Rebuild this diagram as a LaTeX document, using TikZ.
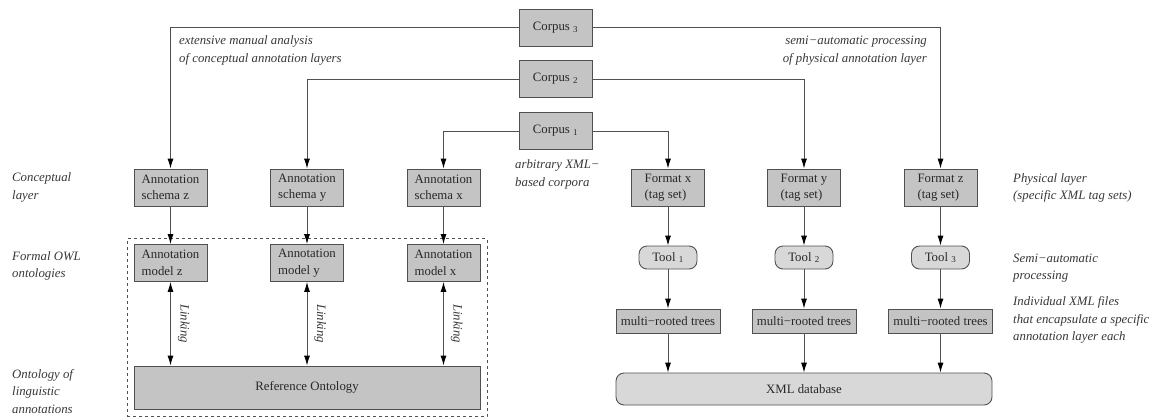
\documentclass[tikz,border=0pt]{standalone}
\usepackage{fontspec}
\setmainfont{Liberation Serif}
\usetikzlibrary{arrows.meta}
\definecolor{boxfill}{RGB}{196,196,196}
\definecolor{toolfill}{RGB}{216,216,216}
\definecolor{edge}{RGB}{80,80,80}
\definecolor{ink}{RGB}{40,40,40}
\definecolor{note}{RGB}{55,55,55}
\begin{document}
\begin{tikzpicture}[x=1pt,y=-1pt,
  font=\fontsize{12.8}{16.5}\selectfont,
  tip/.tip={Latex[length=10pt,width=6pt,fill=black,color=black]},
  box/.style={draw=edge, fill=boxfill, line width=0.9pt, inner sep=0pt,
    minimum width=73pt, minimum height=37pt, align=left, text=ink},
  toolbox/.style={draw=edge, fill=toolfill, line width=0.9pt, inner sep=0pt,
    rounded corners=8pt, minimum width=58pt, minimum height=23pt, text=ink},
  treebox/.style={draw=edge, fill=boxfill, line width=0.9pt, inner sep=0pt,
    minimum width=104pt, minimum height=24pt, text=ink},
  remark/.style={font=\fontsize{12.8}{17.5}\selectfont\itshape, text=note, inner sep=0pt, align=left},
  flow/.style={draw=edge, line width=0.9pt, -tip},
  link/.style={draw=edge, line width=0.9pt, tip-tip},
]
\useasboundingbox (0,0) rectangle (1155,418);

% corpora
\node[box] (c3) at (555.5,27.5) {Corpus \textsubscript{3}};
\node[box] (c2) at (555.5,79) {Corpus \textsubscript{2}};
\node[box] (c1) at (555.5,131) {Corpus \textsubscript{1}};

% conceptual layer
\node[box] (sz) at (170.5,187.5) {Annotation\\schema z};
\node[box] (sy) at (307,187.5) {Annotation\\schema y};
\node[box] (sx) at (443.5,187.5) {Annotation\\schema x};

% physical layer
\node[box] (fx) at (668,187.5) {Format x\\(tag set)};
\node[box] (fy) at (804,187.5) {Format y\\(tag set)};
\node[box] (fz) at (940.5,187.5) {Format z\\(tag set)};

% formal ontologies
\node[box] (mz) at (170.5,263) {Annotation\\model z};
\node[box] (my) at (307,263) {Annotation\\model y};
\node[box] (mx) at (443.5,263) {Annotation\\model x};
\node[box, minimum width=346pt, minimum height=43pt, align=center] (ref) at (307,387.5) {Reference Ontology};

% dashed frame around the ontology part
\node[draw=edge, dashed, line width=0.8pt, inner sep=0pt, minimum width=360pt, minimum height=178pt] (frame) at (307,327.5) {};

% tools, trees and database
\node[toolbox] (t1) at (668,257.5) {Tool \textsubscript{1}};
\node[toolbox] (t2) at (804,257.5) {Tool \textsubscript{2}};
\node[toolbox] (t3) at (940.5,257.5) {Tool \textsubscript{3}};
\node[treebox] (r1) at (668,321) {multi−rooted trees};
\node[treebox] (r2) at (804,321) {multi−rooted trees};
\node[treebox] (r3) at (940.5,321) {multi−rooted trees};
\node[toolbox, minimum width=376pt, minimum height=32pt] (db) at (804,389) {XML database};

% corpus connectors
\draw[flow] (c3.west) -| (sz.north);
\draw[flow] (c3.east) -| (fz.north);
\draw[flow] (c2.west) -| (sy.north);
\draw[flow] (c2.east) -| (fy.north);
\draw[flow] (c1.west) -| (sx.north);
\draw[flow] (c1.east) -| (fx.north);

% schema to model
\draw[flow] (sz) -- (mz);
\draw[flow] (sy) -- (my);
\draw[flow] (sx) -- (mx);

% linking to the reference ontology
\foreach \m in {mz,my,mx}{
  \draw[link] (\m.south) -- (\m.south |- ref.north)
    node[midway, right=6pt, rotate=-90, anchor=south, font=\fontsize{12.8}{15}\selectfont\itshape, text=note, inner sep=1pt] {Linking};
}

% processing chains
\foreach \f/\t/\r in {fx/t1/r1, fy/t2/r2, fz/t3/r3}{
  \draw[flow] (\f) -- (\t);
  \draw[flow] (\t) -- (\r);
  \draw[flow] (\r.south) -- (\r.south |- db.north);
}

% annotations
\node[remark, anchor=west] (n1) at (179,50.5) {extensive manual analysis\\of conceptual annotation layers};
\node[remark, anchor=east, align=right] (n2) at (927,50.5) {semi−automatic processing\\of physical annotation layer};
\node[remark, anchor=west] (n3) at (515,174.5) {arbitrary XML−\\based corpora};

% layer descriptions, left
\node[remark, anchor=west] (l1) at (12,187.5) {Conceptual\\layer};
\node[remark, anchor=west] (l2) at (12,266) {Formal OWL\\ontologies};
\node[remark, anchor=west] (l3) at (12,391.5) {Ontology of\\linguistic\\annotations};

% layer descriptions, right
\node[remark, anchor=west] (r4) at (1013,188) {Physical layer\\(specific XML tag sets)};
\node[remark, anchor=west] (r5) at (1013,268) {Semi−automatic\\processing};
\node[remark, anchor=west] (r6) at (1013,320) {Individual XML files\\that encapsulate a specific\\annotation layer each};
\end{tikzpicture}
\end{document}
